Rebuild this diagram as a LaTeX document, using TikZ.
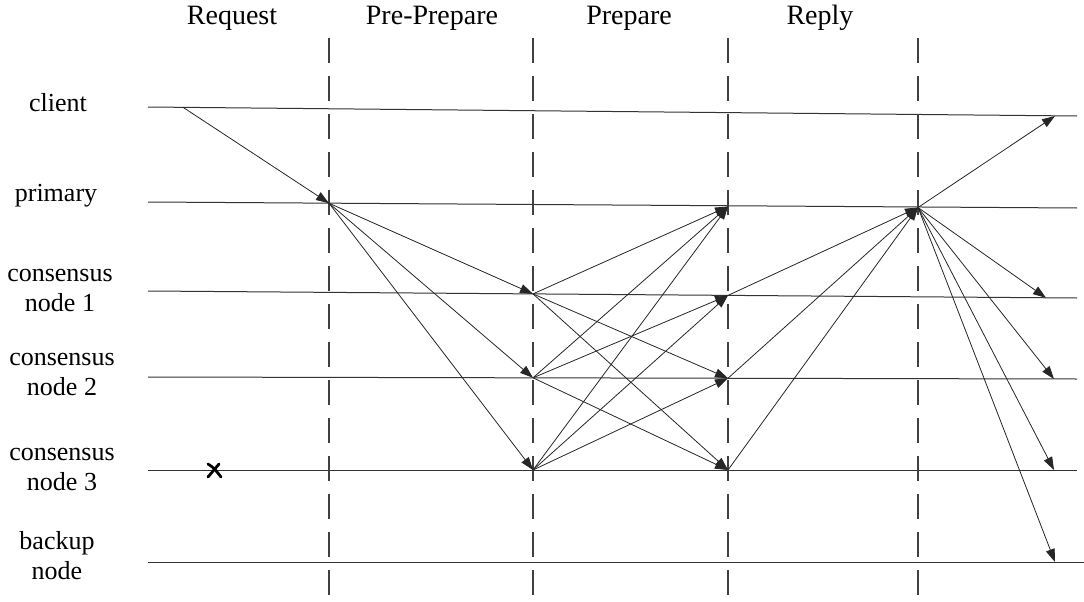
\documentclass[tikz,border=0pt]{standalone}
\usepackage{fontspec}
\setmainfont{Liberation Serif}
\usetikzlibrary{arrows.meta}
\begin{document}
\begin{tikzpicture}[x=1pt,y=-1pt,
  lane/.style={draw=black!80,line width=1pt},
  phase/.style={draw=black!75,line width=1.6pt,dash pattern=on 25pt off 13pt},
  msg/.style={draw=black!85,line width=0.8pt,-{Triangle[length=13pt,width=9pt]}},
  lbl/.style={font=\fontsize{26}{30}\selectfont,align=center,inner sep=0pt},
  head/.style={font=\fontsize{28}{32}\selectfont,inner sep=0pt}]
\useasboundingbox (0,0) rectangle (1084,602);
% lanes
\coordinate (cL) at (148,107); \coordinate (cR) at (1077,116);
\coordinate (pL) at (148,202); \coordinate (pR) at (1077,208);
\coordinate (n1L) at (148,291); \coordinate (n1R) at (1077,298);
\coordinate (n2L) at (148,377); \coordinate (n2R) at (1077,379);
\coordinate (n3L) at (148,470); \coordinate (n3R) at (1077,470);
\coordinate (bL) at (148,562); \coordinate (bR) at (1084,562);
\draw[lane] (cL) -- (cR);
\draw[lane] (pL) -- (pR);
\draw[lane] (n1L) -- (n1R);
\draw[lane] (n2L) -- (n2R);
\draw[lane] (n3L) -- (n3R);
\draw[lane] (bL) -- (bR);
% phase lines
\coordinate (v1t) at (329,38); \coordinate (v1b) at (329,602);
\coordinate (v2t) at (533,38); \coordinate (v2b) at (533,602);
\coordinate (v3t) at (728,38); \coordinate (v3b) at (728,602);
\coordinate (v4t) at (918,38); \coordinate (v4b) at (918,602);
\draw[phase] (v1t) -- (v1b);
\draw[phase] (v2t) -- (v2b);
\draw[phase] (v3t) -- (v3b);
\draw[phase] (v4t) -- (v4b);
% headings
\node[head] (hReq) at (232,18) {Request};
\node[head] (hPre) at (432,18) {Pre-Prepare};
\node[head] (hPrep) at (629,18) {Prepare};
\node[head] (hRep) at (820,18) {Reply};
% lane labels
\node[lbl] (lc) at (58,103) {client};
\node[lbl] (lp) at (56,196) {primary};
\node[lbl] (l1) at (60,290) {consensus\\node 1};
\node[lbl] (l2) at (62,374) {consensus\\node 2};
\node[lbl] (l3) at (62,469) {consensus\\node 3};
\node[lbl] (lb) at (57,556) {backup\\node};
% event points
\coordinate (c0) at (183,107.3);
\coordinate (p1) at (329,203.2);
\coordinate (n1a) at (533,293.9);
\coordinate (n2a) at (533,377.8);
\coordinate (n3a) at (533,470);
\coordinate (pb) at (728,206.5);
\coordinate (n1b) at (728,295.4);
\coordinate (n2b) at (728,378.2);
\coordinate (n3b) at (728,470);
\coordinate (pc) at (918,207.5);
\coordinate (ce) at (1055,116);
\coordinate (n1e) at (1046,297.8);
\coordinate (n2e) at (1054,379);
\coordinate (n3e) at (1054,470);
\coordinate (be) at (1055,562);
% request
\draw[msg] (c0) -- (p1);
% pre-prepare
\draw[msg] (p1) -- (n1a);
\draw[msg] (p1) -- (n2a);
\draw[msg] (p1) -- (n3a);
% prepare
\draw[msg] (n1a) -- (pb);
\draw[msg] (n1a) -- (n2b);
\draw[msg] (n1a) -- (n3b);
\draw[msg] (n2a) -- (pb);
\draw[msg] (n2a) -- (n1b);
\draw[msg] (n2a) -- (n3b);
\draw[msg] (n3a) -- (pb);
\draw[msg] (n3a) -- (n1b);
\draw[msg] (n3a) -- (n2b);
% commit
\draw[msg] (n1b) -- (pc);
\draw[msg] (n2b) -- (pc);
\draw[msg] (n3b) -- (pc);
% reply
\draw[msg] (pc) -- (ce);
\draw[msg] (pc) -- (n1e);
\draw[msg] (pc) -- (n2e);
\draw[msg] (pc) -- (n3e);
\draw[msg] (pc) -- (be);
% failure mark
\draw[line width=2.8pt,line cap=round] (208,464) .. controls (214,468) .. (221,477);
\draw[line width=2.8pt,line cap=round] (208,477) -- (219,464);
\end{tikzpicture}
\end{document}
